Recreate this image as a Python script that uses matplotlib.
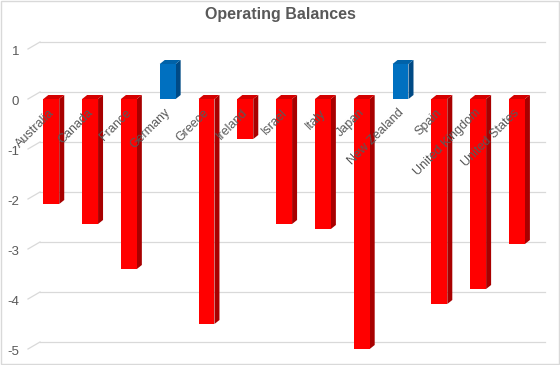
import matplotlib.pyplot as plt
from matplotlib.patches import Polygon
from matplotlib.transforms import ScaledTranslation

countries = ['Australia', 'Canada', 'France', 'Germany', 'Greece', 'Ireland', 'Israel',
             'Italy', 'Japan', 'New Zealand', 'Spain', 'United Kingdom', 'United States']
balances = [-2.1, -2.5, -3.4, 0.7, -4.5, -0.8, -2.5, -2.6, -5.0, 0.7, -4.1, -3.8, -2.9]
y_ticks = [1, 0, -1, -2, -3, -4, -5]

plt.rcParams['font.family'] = ['Liberation Sans', 'DejaVu Sans']
grey = '#595959'

fig = plt.figure(figsize=(5.6, 3.65), dpi=100)
ax = fig.add_axes([28 / 560, 6 / 365, 520 / 560, 325 / 365])
ax.set_xlim(-0.6, 12.8)
ax.set_ylim(-5.2, 1.3)
ax.axis('off')

def shift(dx, dy):
    # offset in pixels (100 dpi)
    return ax.transData + ScaledTranslation(dx / 100, dy / 100, fig.dpi_scale_trans)

# back wall gridlines + left side wall slant
back = shift(12, 7)
for t in y_ticks:
    ax.plot([-0.6, 12.8 - 15 / 38.9], [t, t], color='#d9d9d9', lw=0.9, transform=back, clip_on=False)
    x0, y0 = ax.transData.transform((-0.6, t))
    ax.plot([x0, x0 + 12 * fig.dpi / 100], [y0, y0 + 7 * fig.dpi / 100], color='#d9d9d9',
            lw=0.9, transform=None, clip_on=False)
    ax.text(-0.6, t, str(t), transform=shift(-9, -3), ha='right', va='center',
            fontsize=9.5, color=grey)

# 3d-looking bars
w = 0.41
depth = shift(5, 4)
for i, v in enumerate(balances):
    if v > 0:
        front, side, top = '#0070c0', '#004a85', '#0062a8'
    else:
        front, side, top = '#ff0000', '#a80000', '#d40000'
    l, r = i - w / 2, i + w / 2
    hi = max(v, 0)
    lo = min(v, 0)
    # side face
    p0 = ax.transData.transform([(r, lo), (r, hi)])
    p1 = depth.transform([(r, hi), (r, lo)])
    ax.add_patch(Polygon(list(p0) + list(p1), closed=True, transform=None, facecolor=side,
                         edgecolor='none', zorder=2))
    # top face
    q0 = ax.transData.transform([(l, hi), (r, hi)])
    q1 = depth.transform([(r, hi), (l, hi)])
    ax.add_patch(Polygon(list(q0) + list(q1), closed=True, transform=None, facecolor=top,
                         edgecolor='none', zorder=2))
    ax.bar(i, v, width=w, color=front, zorder=3)

# category labels along the zero line
for i, name in enumerate(countries):
    ax.text(i, 0, name, transform=shift(1, -12), rotation=45, rotation_mode='anchor',
            ha='right', va='center', fontsize=9, color=grey, zorder=5)

fig.text(0.5, 1 - 15 / 365, 'Operating Balances', ha='center', va='center',
         fontsize=11.5, fontweight='bold', color=grey)

fig.patches.append(plt.Rectangle((0.001, 0.002), 0.997, 0.995, transform=fig.transFigure,
                                 fill=False, edgecolor='#d9d9d9', lw=1))

fig.savefig('out.png', dpi=100)
